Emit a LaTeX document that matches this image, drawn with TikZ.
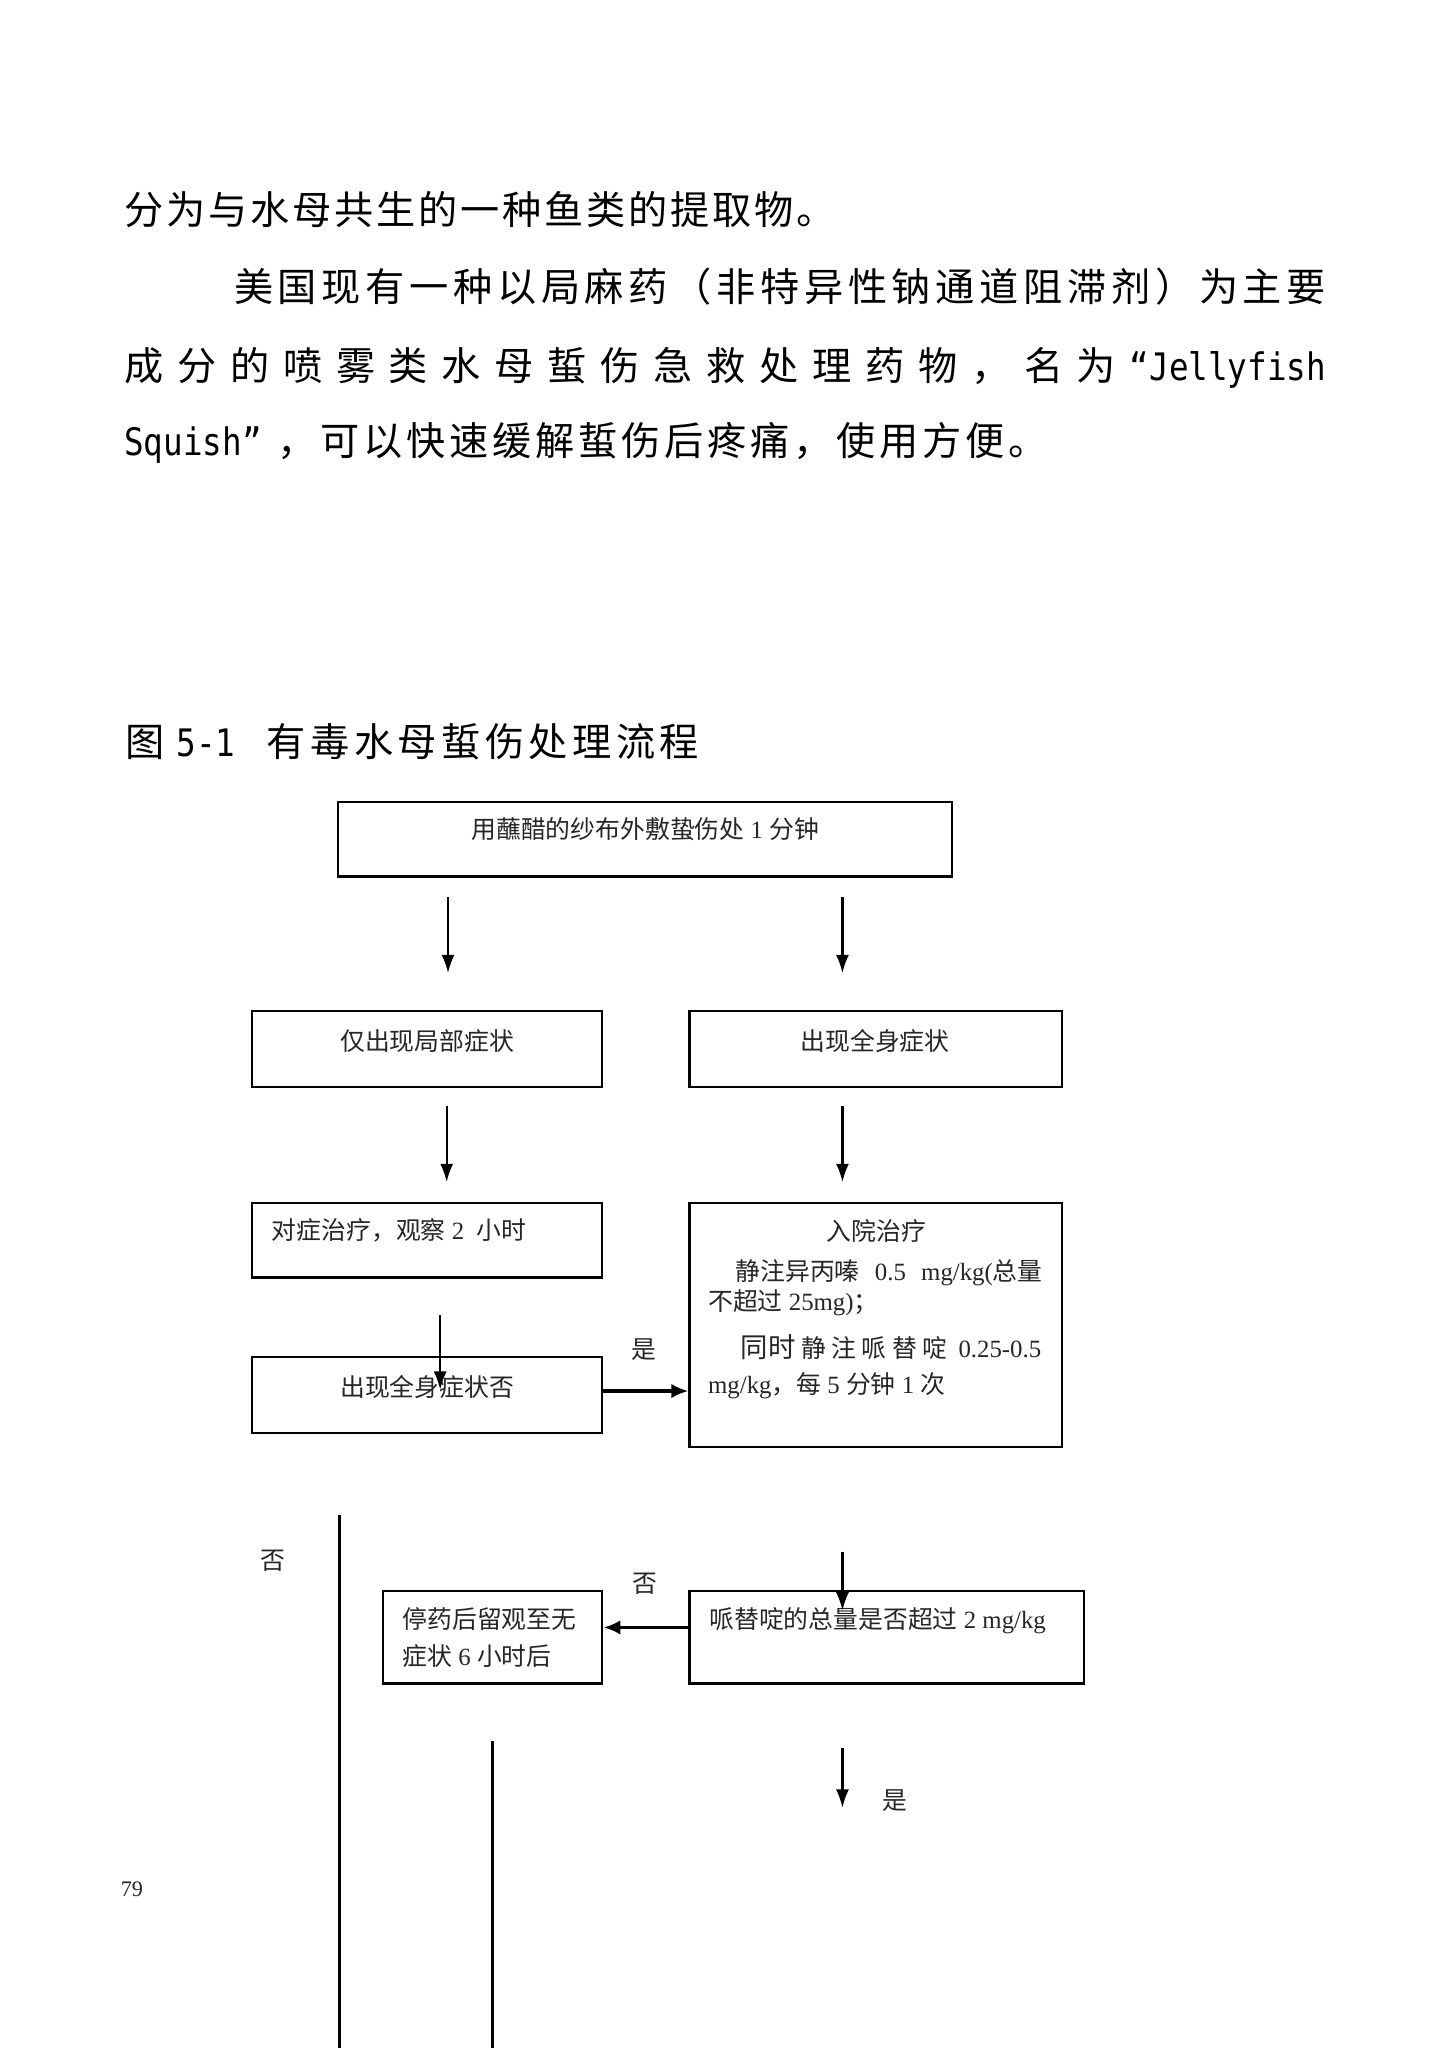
\documentclass[tikz,border=0pt]{standalone}
\usepackage{fontspec}
\usepackage{graphicx}
\setmainfont{Liberation Serif}
\newfontfamily\cj{Noto Sans CJK SC}
\newfontfamily\mono{DejaVu Sans Mono}
\usetikzlibrary{arrows.meta}
\def\spr#1{\ifx\relax#1\else#1\hfil\expandafter\spr\fi}
\newcommand{\spreadto}[2]{\makebox[#1][s]{\spr#2\relax\unskip}}
\newcommand{\lat}[1]{\scalebox{0.86}[1]{\mono\fontsize{29}{34}\selectfont #1}}
\begin{document}
\begin{tikzpicture}[x=1pt,y=-1pt,
  box/.style={draw, line width=1.8pt, rectangle, inner sep=0pt},
  body/.style={anchor=base west, inner sep=0pt, font=\cj\fontsize{30}{36}\selectfont},
  btxt/.style={inner sep=0pt, text=black!85, font=\fontsize{19}{23}\selectfont},
  arr/.style={line width=1.6pt, -{Latex[length=14pt,width=10pt]}},
  thickarr/.style={line width=2.8pt, -{Latex[length=13pt,width=11pt]}},
  plain/.style={line width=1.8pt}]
\useasboundingbox[fill=white] (0,0) rectangle (1108.6,1568);

% body text
\node[body] (l1) at (95,172) {\spreadto{545pt}{分为与水母共生的一种鱼类的提取物。}};
\node[body] (l2) at (179,231) {\spreadto{836pt}{美国现有一种以局麻药（非特异性钠通道阻滞剂）为主要}};
\node[body] (l3) at (95,291) {\spreadto{920pt}{成分的喷雾类水母蜇伤急救处理药物，名为{\lat{“Jellyfish}}}};
\node[body] (l4a) at (95,349) {\lat{Squish”}};
\node[body] (l4b) at (212,349) {\spreadto{590pt}{，可以快速缓解蜇伤后疼痛，使用方便。}};

% caption
\node[body] (c1) at (96,579) {图};
\node[body] (c2) at (135,579) {\lat{5-1}};
\node[body] (c3) at (204,579) {\spreadto{331pt}{有毒水母蜇伤处理流程}};

% boxes
\node[box, minimum width=470pt, minimum height=57pt] (A) at (494,642.5) {};
\node[box, minimum width=268pt, minimum height=58pt] (B) at (327,803) {};
\node[box, minimum width=285pt, minimum height=58pt] (C) at (670.5,803) {};
\node[box, minimum width=268pt, minimum height=57pt] (D) at (327,949.5) {};
\node[box, minimum width=285pt, minimum height=187pt] (E) at (670.5,1014.5) {};
\node[box, minimum width=268pt, minimum height=58pt] (F) at (327,1068) {};
\node[box, minimum width=168pt, minimum height=71pt] (G) at (377,1253.5) {};
\node[box, minimum width=302pt, minimum height=71pt] (H) at (679,1253.5) {};

% box texts
\node[btxt, anchor=base] (tA) at (494,642) {{\cj 用蘸醋的纱布外敷蛰伤处} 1 {\cj 分钟}};
\node[btxt, anchor=base] (tB) at (327,804) {\cj 仅出现局部症状};
\node[btxt, anchor=base] (tC) at (670,804) {\cj 出现全身症状};
\node[btxt, anchor=base west] (tD) at (208,949) {{\cj 对症治疗，观察} 2\ \ {\cj 小时}};
\node[btxt, anchor=base] (tE1) at (671,950) {\cj 入院治疗};
\node[btxt, anchor=base west] (tE2) at (563,980) {\makebox[235pt][s]{{\cj 静注异丙嗪}\hfil 0.5\hfil mg/kg({\cj 总量}}};
\node[btxt, anchor=base west] (tE3) at (542,1003) {{\cj 不超过} 25mg){\cj ；}};
\node[btxt, anchor=base west] (tE4) at (567,1039) {\makebox[230pt][s]{{\cj\fontsize{21}{24}\selectfont 同时}\hfil{\cj\spr 静注哌替啶\relax}\hfil 0.25-0.5}};
\node[btxt, anchor=base west] (tE5) at (542,1067) {mg/kg{\cj ，每} 5 {\cj 分钟} 1 {\cj 次}};
\node[btxt, anchor=base] (tF) at (327,1069) {\cj 出现全身症状否};
\node[btxt, anchor=base west] (tG1) at (308,1247) {\cj 停药后留观至无};
\node[btxt, anchor=base west] (tG2) at (308,1275) {{\cj 症状} 6 {\cj 小时后}};
\node[btxt, anchor=base west] (tH) at (543,1247) {{\cj 哌替啶的总量是否超过} 2 mg/kg};

% labels
\node[btxt, anchor=base] (y1) at (493,1040) {\cj 是};
\node[btxt, anchor=base] (n1) at (209,1202) {\cj 否};
\node[btxt, anchor=base] (n2) at (494,1219) {\cj 否};
\node[btxt, anchor=base] (y2) at (685,1385) {\cj 是};
\node[btxt, anchor=base, font=\fontsize{17}{20}\selectfont] (pg) at (101,1452) {79};

% free ends
\coordinate (a1s) at (343,687); \coordinate (a1e) at (343,745);
\coordinate (a2s) at (645,687); \coordinate (a2e) at (645,745);
\coordinate (a3s) at (342,847); \coordinate (a3e) at (342,905);
\coordinate (a4s) at (645,847); \coordinate (a4e) at (645,905);
\coordinate (a5s) at (337,1007); \coordinate (a5e) at (337,1064);
\coordinate (a6s) at (645,1188); \coordinate (a6e) at (645,1233);
\coordinate (a7s) at (645,1338); \coordinate (a7e) at (645,1384);
\coordinate (v1s) at (260,1160); \coordinate (v1e) at (260,1568);
\coordinate (v2s) at (377,1333); \coordinate (v2e) at (377,1568);

\draw[arr] (a1s) -- (a1e);
\draw[arr] (a2s) -- (a2e);
\draw[arr] (a3s) -- (a3e);
\draw[arr] (a4s) -- (a4e);
\draw[arr] (a5s) -- (a5e);
\draw[arr] (a6s) -- (a6e);
\draw[arr] (a7s) -- (a7e);
\draw[thickarr] ([yshift=3pt]F.east) -- ([yshift=3pt]F.east -| E.west);
\draw[thickarr] ([yshift=7.5pt]H.west) -- ([yshift=7.5pt]G.east);
\draw[plain] (v1s) -- (v1e);
\draw[plain] (v2s) -- (v2e);
\end{tikzpicture}
\end{document}
